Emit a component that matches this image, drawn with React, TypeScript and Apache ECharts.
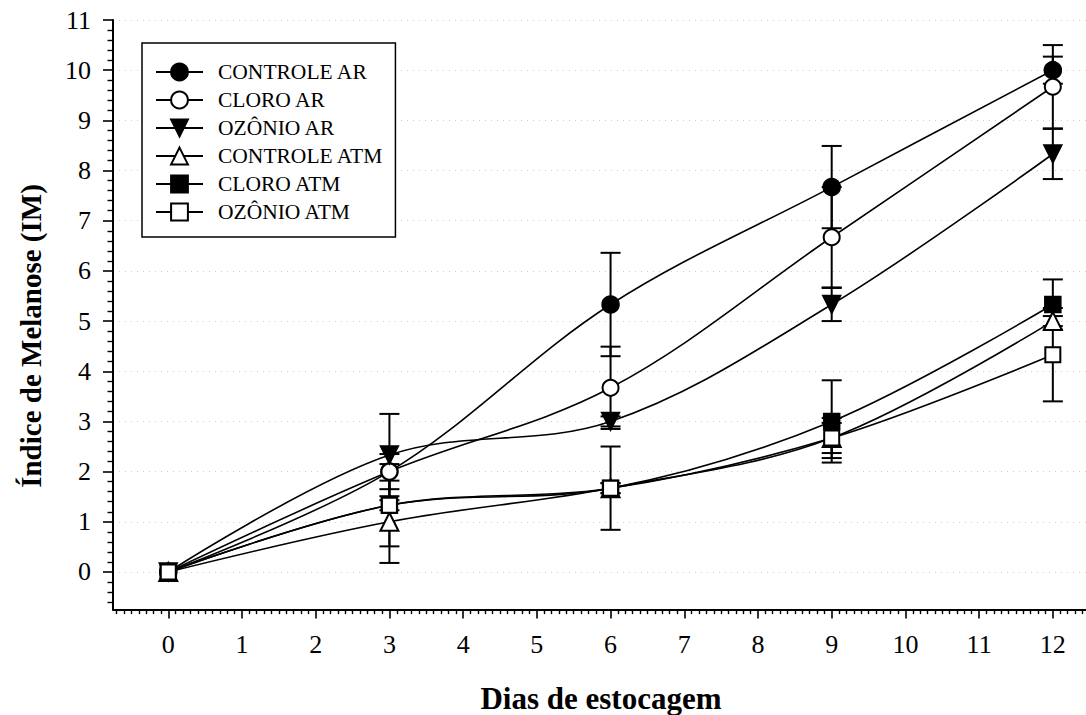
import React, { useEffect, useRef } from "react";
import * as echarts from "echarts";

const days = [0, 3, 6, 9, 12];
const controleAR = [0, 2.0, 5.33, 7.67, 10.0];
const controleARErr = [0, 0, 1.03, 0.82, 0.27];
const cloroAR = [0, 2.0, 3.67, 6.67, 9.67];
const cloroARErr = [0, 0.35, 0.82, 1.0, 0.83];
const ozonioAR = [0, 2.33, 3.0, 5.33, 8.33];
const ozonioARErr = [0, 0.82, 0.1, 0.33, 0.5];
const controleATM = [0, 1.0, 1.67, 2.67, 5.0];
const controleATMErr = [0, 0.82, 0.83, 0.3, 0.1];
const cloroATM = [0, 1.33, 1.67, 3.0, 5.33];
const cloroATMErr = [0, 0.82, 0.1, 0.82, 0.5];
const ozonioATM = [0, 1.33, 1.67, 2.67, 4.33];
const ozonioATMErr = [0, 0.1, 0.1, 0.4, 0.93];

const xTickLabels = [0, 1, 2, 3, 4, 5, 6, 7, 8, 9, 10, 11, 12];
const yTickLabels = [0, 1, 2, 3, 4, 5, 6, 7, 8, 9, 10, 11];

const seriesDefs = [
  { name: "CONTROLE AR", values: controleAR, errs: controleARErr, symbol: "circle", size: 17, rotate: 0 },
  { name: "CLORO AR", values: cloroAR, errs: cloroARErr, symbol: "emptyCircle", size: 16, rotate: 0 },
  { name: "OZÔNIO AR", values: ozonioAR, errs: ozonioARErr, symbol: "triangle", size: 18, rotate: 180 },
  { name: "CONTROLE ATM", values: controleATM, errs: controleATMErr, symbol: "emptyTriangle", size: 18, rotate: 0 },
  { name: "CLORO ATM", values: cloroATM, errs: cloroATMErr, symbol: "rect", size: 16, rotate: 0 },
  { name: "OZÔNIO ATM", values: ozonioATM, errs: ozonioATMErr, symbol: "emptyRect", size: 15, rotate: 0 },
];

const FONT = "'Liberation Serif', 'Times New Roman', serif";

function minorList(from: number, to: number, step: number): number[] {
  const out: number[] = [];
  const n = Math.round((to - from) / step);
  for (let i = 0; i <= n; i++) {
    const v = Math.round((from + i * step) * 100) / 100;
    if (Math.abs(v - Math.round(v)) > 1e-6) out.push(v);
  }
  return out;
}

export default function App() {
  const ref = useRef<HTMLDivElement>(null);
  useEffect(() => {
    if (!ref.current) return;
    const chart = echarts.init(ref.current, undefined, { renderer: "svg" });

    const lineSeries = seriesDefs.map((s) => ({
      name: s.name,
      type: "line",
      xAxisIndex: 0,
      yAxisIndex: 0,
      data: days.map((d, i) => [d, s.values[i]]),
      smooth: 0.35,
      symbol: s.symbol,
      symbolSize: s.size,
      symbolRotate: s.rotate,
      showAllSymbol: true,
      lineStyle: { color: "#000", width: 1.6 },
      itemStyle: { color: "#000", borderColor: "#000", borderWidth: 1.5 },
      z: 3,
      emphasis: { disabled: true },
    }));

    const errSeries = seriesDefs.map((s) => ({
      name: s.name + " err",
      type: "custom",
      xAxisIndex: 0,
      yAxisIndex: 0,
      z: 2,
      clip: false,
      data: days.map((d, i) => [d, s.values[i], s.errs[i]]),
      encode: { x: 0, y: 1 },
      renderItem: (params: any, api: any) => {
        const x = api.value(0);
        const y = api.value(1);
        const e = api.value(2);
        if (!e) return null;
        const top = api.coord([x, y + e]);
        const bot = api.coord([x, y - e]);
        const hw = 10;
        const st = { stroke: "#000", lineWidth: 2 };
        return {
          type: "group",
          children: [
            { type: "line", shape: { x1: top[0], y1: top[1], x2: bot[0], y2: bot[1] }, style: st },
            { type: "line", shape: { x1: top[0] - hw, y1: top[1], x2: top[0] + hw, y2: top[1] }, style: st },
            { type: "line", shape: { x1: bot[0] - hw, y1: bot[1], x2: bot[0] + hw, y2: bot[1] }, style: st },
          ],
        };
      },
    }));

    const axisBase = { type: "value", min: -0.75, max: 12.45, position: "bottom", gridIndex: 0 };

    chart.setOption({
      animation: false,
      backgroundColor: "#fff",
      grid: { left: 113, top: 20, right: 0, height: 589.6, containLabel: false },
      legend: {
        data: seriesDefs.map((s) => s.name),
        orient: "vertical",
        left: 142,
        top: 43,
        padding: [18, 12, 14, 13],
        itemWidth: 47,
        itemHeight: 21,
        itemGap: 6,
        borderColor: "#000",
        borderWidth: 1.5,
        backgroundColor: "#fff",
        selectedMode: false,
        formatter: (name: string) => "{t|" + name + "}",
        textStyle: {
          color: "#000",
          fontFamily: FONT,
          fontSize: 21.5,
          rich: { t: { fontFamily: FONT, fontSize: 21.5, color: "#000", padding: [0, 0, 0, 10], lineHeight: 21 } },
        },
      },
      xAxis: [
        {
          ...axisBase,
          axisLine: { show: true, onZero: false, lineStyle: { color: "#000", width: 2 } },
          axisTick: { show: true, customValues: xTickLabels, length: 9, lineStyle: { color: "#000", width: 1.6 } },
          axisLabel: { show: true, customValues: xTickLabels, color: "#000", fontFamily: FONT, fontSize: 26, margin: 22 },
          splitLine: { show: false },
        },
        {
          ...axisBase,
          axisLine: { show: false, onZero: false },
          axisTick: { show: true, customValues: minorList(-0.7, 12.4, 0.1), length: 4.5, lineStyle: { color: "#000", width: 1.4 } },
          axisLabel: { show: false },
          splitLine: { show: false },
        },
      ],
      yAxis: [
        {
          type: "value",
          min: -0.75,
          max: 11,
          position: "left",
          axisLine: { show: true, onZero: false, lineStyle: { color: "#000", width: 2 } },
          axisTick: { show: true, customValues: yTickLabels, length: 10, lineStyle: { color: "#000", width: 1.6 } },
          axisLabel: { show: true, customValues: yTickLabels, color: "#000", fontFamily: FONT, fontSize: 26, margin: 22 },
          splitLine: { show: true, lineStyle: { color: "#cfcfcf", width: 1, type: [1, 5] } },
        },
        {
          type: "value",
          min: -0.75,
          max: 11,
          position: "left",
          axisLine: { show: false, onZero: false },
          axisTick: { show: true, customValues: minorList(-0.6, 10.8, 0.2), length: 5.5, lineStyle: { color: "#000", width: 1.4 } },
          axisLabel: { show: false },
          splitLine: { show: false },
        },
      ],
      graphic: [
        {
          type: "text",
          x: 601,
          y: 698,
          style: {
            text: "Dias de estocagem",
            fontFamily: FONT,
            fontWeight: "bold",
            fontSize: 31,
            fill: "#000",
            textAlign: "center",
            textVerticalAlign: "middle",
          },
        },
        {
          type: "text",
          x: 31,
          y: 336,
          rotation: Math.PI / 2,
          style: {
            text: "Índice de Melanose (IM)",
            fontFamily: FONT,
            fontWeight: "bold",
            fontSize: 29,
            fill: "#000",
            textAlign: "center",
            textVerticalAlign: "middle",
          },
        },
      ],
      series: [...errSeries, ...lineSeries],
    });
    return () => chart.dispose();
  }, []);
  return <div ref={ref} style={{ position: "absolute", left: 0, top: 0, width: 1086, height: 715 }} />;
}
